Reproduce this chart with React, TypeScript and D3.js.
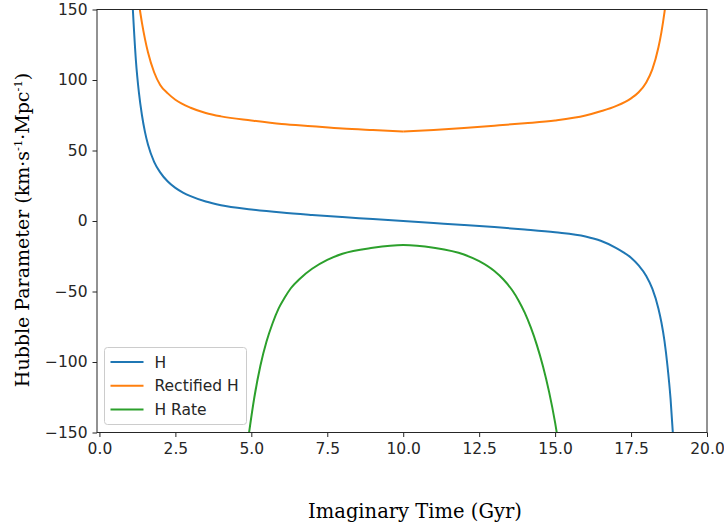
import React, { useEffect, useRef } from 'react';
import * as d3 from 'd3';

// values
const hTimes = [1.1, 1.2, 1.3, 1.4, 1.5, 1.6, 1.8, 2.0, 2.25, 2.5, 2.75, 3.0, 3.5, 4.0, 5.0, 6.0, 7.0, 8.0, 9.0, 10.0,
  11.0, 12.0, 13.0, 14.0, 15.0, 16.0, 16.5, 17.0, 17.25, 17.5, 17.75, 18.0, 18.2, 18.4, 18.5, 18.6, 18.7, 18.8, 18.9];
const hValues = [150, 114, 91, 75, 63, 54, 42, 34.5, 28, 23.5, 20.2, 17.6, 13.8, 11.2, 8.2, 6.0, 4.3, 2.8, 1.4, 0,
  -1.4, -2.8, -4.3, -6.0, -8.0, -11, -14, -19, -22.2, -26, -31.5, -39, -48, -62, -72, -85, -103, -126, -158];

const rectTimes = [1.33, 1.4, 1.5, 1.6, 1.8, 2.0, 2.25, 2.5, 3.0, 3.5, 4.0, 5.0, 6.0, 7.0, 8.0, 9.0, 10.0,
  11.0, 12.0, 13.0, 14.0, 15.0, 16.0, 16.5, 17.0, 17.5, 17.75, 18.0, 18.2, 18.4, 18.5, 18.6, 18.65];
const rectValues = [150, 140.5, 129, 119.5, 105.5, 96.5, 90.5, 86, 80.3, 76.6, 74.2, 71.3, 68.8, 67.2, 65.6, 64.5, 63.5,
  64.6, 66.0, 67.6, 69.3, 71.3, 74.8, 77.8, 81.5, 87, 91.3, 98.3, 107.5, 123, 134, 148, 156];

const rateTimes = [4.9, 5.1, 5.3, 5.5, 5.7, 5.9, 6.1, 6.3, 6.6, 7.0, 7.5, 8.0, 9.0, 10.0,
  11.0, 12.0, 12.5, 13.0, 13.3, 13.6, 13.8, 14.0, 14.2, 14.4, 14.6, 14.8, 15.0, 15.1];
const rateValues = [-154, -125, -102.5, -85.5, -72.5, -62, -54.3, -47.7, -40.9, -33.9, -27.6, -23.2, -19, -17,
  -19, -23.8, -28.5, -35.5, -41.5, -49.5, -56.5, -65, -75.5, -88, -103, -121, -143, -156];

const seriesNames = ['H', 'Rectified H', 'H Rate'];
const seriesColors = ['#1f77b4', '#ff7f0e', '#2ca02c'];
const xTicks = [0, 2.5, 5, 7.5, 10, 12.5, 15, 17.5, 20];
const yTicks = [-150, -100, -50, 0, 50, 100, 150];

export default function App() {
  const ref = useRef<SVGSVGElement>(null);

  useEffect(() => {
    const svg = d3.select(ref.current);
    svg.selectAll('*').remove();

    const left = 97, right = 707, top = 9.5, bottom = 432.5;
    const x = d3.scaleLinear().domain([-0.08, 20]).range([left, right]);
    const y = d3.scaleLinear().domain([-150, 150]).range([bottom, top]);

    svg.append('defs').append('clipPath').attr('id', 'plot-clip')
      .append('rect').attr('x', left).attr('y', top)
      .attr('width', right - left).attr('height', bottom - top);

    const tickFont = 'DejaVu Sans, sans-serif';
    const tickSize = 15.5;

    // x axis
    const xAxis = svg.append('g')
      .attr('transform', 'translate(0,' + bottom + ')')
      .call(d3.axisBottom(x).tickValues(xTicks).tickSize(4.5).tickPadding(6)
        .tickFormat((d) => d3.format('.1f')(d as number)));
    xAxis.select('.domain').remove();
    xAxis.selectAll('text').attr('font-size', tickSize).attr('font-family', tickFont).attr('fill', '#262626');
    xAxis.selectAll('line').attr('stroke', '#262626');

    // y axis
    const yAxis = svg.append('g')
      .attr('transform', 'translate(' + left + ',0)')
      .call(d3.axisLeft(y).tickValues(yTicks).tickSize(4.5).tickPadding(5)
        .tickFormat((d) => String(d).replace('-', '\u2212')));
    yAxis.select('.domain').remove();
    yAxis.selectAll('text').attr('font-size', tickSize).attr('font-family', tickFont).attr('fill', '#262626');
    yAxis.selectAll('line').attr('stroke', '#262626');

    // lines; the rectified one has a corner at its minimum, so it is drawn in two halves
    const hPts = hTimes.map((t, i) => [t, hValues[i]]);
    const rectPts = rectTimes.map((t, i) => [t, rectValues[i]]);
    const ratePts = rateTimes.map((t, i) => [t, rateValues[i]]);
    const rectMin = rectValues.indexOf(d3.min(rectValues) as number);

    const segments = [
      { pts: hPts, color: seriesColors[0] },
      { pts: rectPts.slice(0, rectMin + 1), color: seriesColors[1] },
      { pts: rectPts.slice(rectMin), color: seriesColors[1] },
      { pts: ratePts, color: seriesColors[2] },
    ];

    const line = d3.line<number[]>()
      .curve(d3.curveMonotoneX)
      .x((d) => x(d[0]))
      .y((d) => y(d[1]));

    const plot = svg.append('g').attr('clip-path', 'url(#plot-clip)');
    segments.forEach((s) => {
      plot.append('path')
        .datum(s.pts)
        .attr('fill', 'none')
        .attr('stroke', s.color)
        .attr('stroke-width', 2)
        .attr('stroke-linejoin', 'round')
        .attr('d', line);
    });

    // frame
    svg.append('rect')
      .attr('x', left).attr('y', top)
      .attr('width', right - left).attr('height', bottom - top)
      .attr('fill', 'none').attr('stroke', '#262626').attr('stroke-width', 1);

    // legend
    const legend = svg.append('g').attr('transform', 'translate(104.5,347.5)');
    legend.append('rect')
      .attr('width', 142).attr('height', 77).attr('rx', 3)
      .attr('fill', 'white').attr('fill-opacity', 0.8)
      .attr('stroke', '#cccccc');
    seriesNames.forEach((name, i) => {
      const ly = 14.5 + i * 23.8;
      legend.append('line')
        .attr('x1', 6).attr('x2', 39).attr('y1', ly).attr('y2', ly)
        .attr('stroke', seriesColors[i]).attr('stroke-width', 2);
      legend.append('text')
        .attr('x', 50).attr('y', ly).attr('dy', '0.36em')
        .attr('font-size', tickSize).attr('font-family', tickFont).attr('fill', '#262626')
        .text(name);
    });

    // axis labels
    const labelFont = 'DejaVu Serif, serif';
    svg.append('text')
      .attr('x', 415).attr('y', 518)
      .attr('text-anchor', 'middle')
      .attr('font-size', 19.5).attr('font-family', labelFont)
      .text('Imaginary Time (Gyr)');

    const yl = svg.append('text')
      .attr('transform', 'translate(29,230) rotate(-90)')
      .attr('text-anchor', 'middle')
      .attr('font-size', 19).attr('font-family', labelFont);
    yl.append('tspan').text('Hubble Parameter (km\u00B7s');
    yl.append('tspan').attr('font-size', 11.5).attr('dy', -7).text('-1');
    yl.append('tspan').attr('dy', 7).text('\u00B7Mpc');
    yl.append('tspan').attr('font-size', 11.5).attr('dy', -7).text('-1');
    yl.append('tspan').attr('dy', 7).text(')');
  }, []);

  return (
    <svg ref={ref} width={724} height={526}
      style={{ position: 'absolute', left: 0, top: 0, background: 'white' }} />
  );
}
